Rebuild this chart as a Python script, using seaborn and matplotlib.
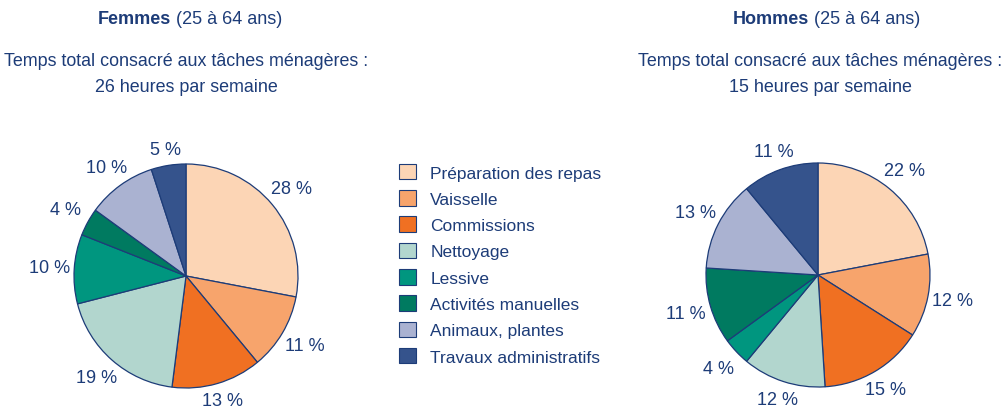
import numpy as np
import matplotlib
matplotlib.use("Agg")
import matplotlib.pyplot as plt
import matplotlib.patches as mpatches
import seaborn as sns

# data
categories = ["Préparation des repas", "Vaisselle", "Commissions", "Nettoyage",
              "Lessive", "Activités manuelles", "Animaux, plantes", "Travaux administratifs"]
femmes = [28, 11, 13, 19, 10, 4, 10, 5]
hommes = [22, 12, 15, 12, 4, 11, 13, 11]
colors = ["#FCD5B5", "#F7A46C", "#F07022", "#B2D6CE",
          "#00967F", "#007A60", "#AAB2D1", "#35538C"]
heures_femmes = 26
heures_hommes = 15

sns.set_theme(style="white")
plt.rcParams['font.family'] = ['Liberation Sans', 'DejaVu Sans']
txt = "#1D3C78"

W, H = 1001, 414
fig = plt.figure(figsize=(W / 100, H / 100), dpi=100)
fig.patch.set_facecolor("white")


def pie_at(cx, cy, r, values):
    L = 1.5
    s = 2 * L * r
    ax = fig.add_axes([(cx - s / 2) / W, 1 - (cy + s / 2) / H, s / W, s / H])
    wedges, _ = ax.pie(values, colors=colors, startangle=90, counterclock=False,
                       wedgeprops=dict(edgecolor=txt, linewidth=0.9))
    total = sum(values)
    # labels placed just outside the rim, pushed out by half the text box
    for w, v in zip(wedges, values):
        phi = np.deg2rad((w.theta1 + w.theta2) / 2)
        d = 1.045 + 0.17 * abs(np.cos(phi)) + 0.071 * abs(np.sin(phi))
        ax.text(d * np.cos(phi), d * np.sin(phi), f"{100 * v / total:.0f} %",
                ha="center", va="center", color=txt, fontsize=13)
    ax.set_xlim(-L, L)
    ax.set_ylim(-L, L)
    ax.set_aspect("equal")
    ax.axis("off")
    return ax


pie_at(186, 277, 112, femmes)
pie_at(818, 276, 112, hommes)


def header(split_x, sub_x, who, hrs):
    fig.text(split_x / W, 1 - 20 / H, who, ha="right", va="center",
             fontsize=13, fontweight="bold", color=txt)
    fig.text(split_x / W, 1 - 20 / H, " (25 à 64 ans)", ha="left", va="center",
             fontsize=13, color=txt)
    fig.text(sub_x / W, 1 - 62 / H, "Temps total consacré aux tâches ménagères :",
             ha="center", va="center", fontsize=12.9, color=txt)
    fig.text(sub_x / W, 1 - 88 / H, f"{hrs} heures par semaine",
             ha="center", va="center", fontsize=12.9, color=txt)


header(171, 186.5, "Femmes", heures_femmes)
header(809, 820, "Hommes", heures_hommes)

handles = [mpatches.Patch(facecolor=c, edgecolor=txt, linewidth=0.8) for c in colors]
leg = fig.legend(handles, categories, loc="upper left",
                 bbox_to_anchor=(392 / W, 1 - 158 / H), frameon=False,
                 fontsize=12.5, handlelength=1.0, handleheight=1.0,
                 handletextpad=0.8, labelspacing=0.55, borderaxespad=0)
for t in leg.get_texts():
    t.set_color(txt)

fig.savefig("out.png", dpi=100, facecolor="white")
